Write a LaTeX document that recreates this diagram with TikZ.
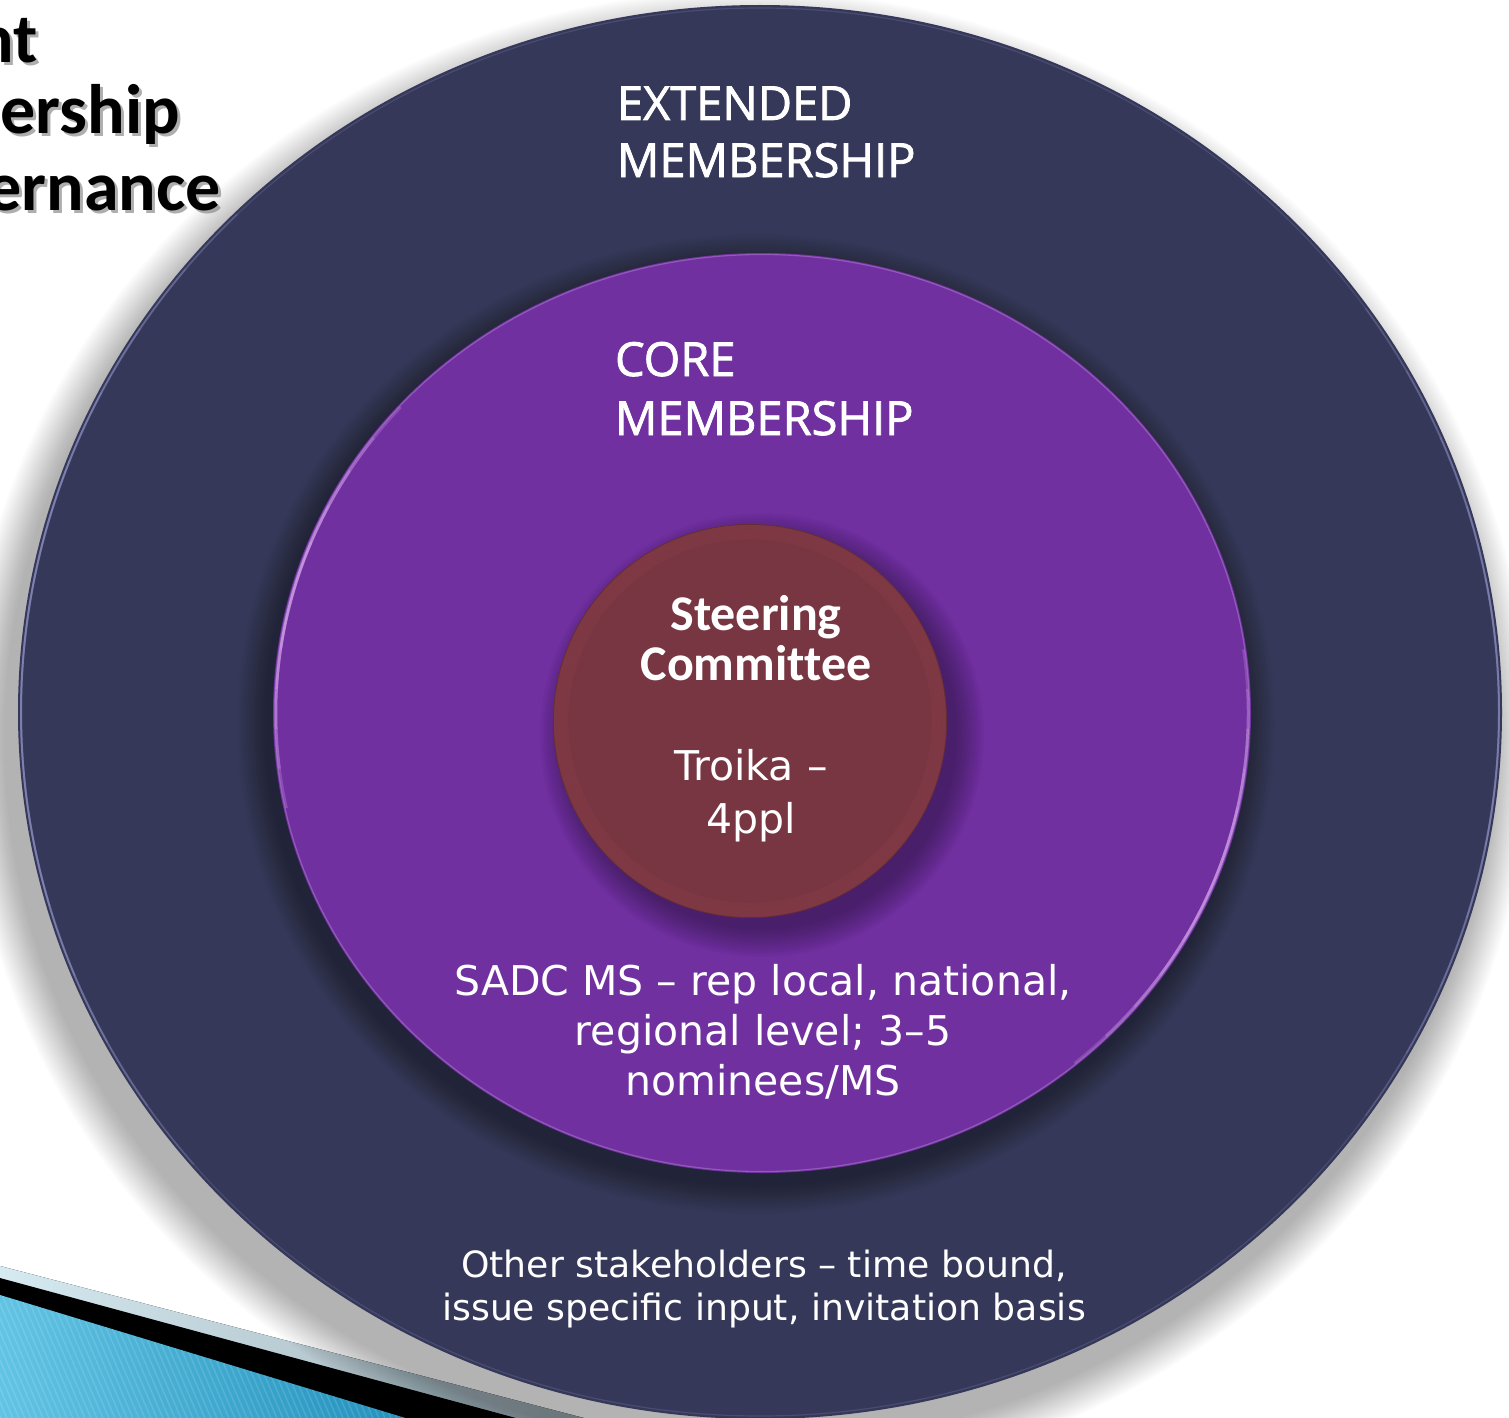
\documentclass[tikz,border=0pt]{standalone}
\usepackage{fontspec}
\setmainfont{Carlito}[Ligatures=NoCommon]
\newfontfamily\dvs{DejaVu Sans}
\newfontfamily\osans{Open Sans}[FakeBold=1.6]
\usetikzlibrary{shapes.geometric}
\definecolor{navy}{HTML}{353859}
\definecolor{purp}{HTML}{7030A0}
\definecolor{maroon}{HTML}{773641}
\definecolor{pinkrim}{HTML}{C85A6C}
\definecolor{navyrim}{HTML}{9A9CD0}
\definecolor{purprim}{HTML}{E4B8F8}
\definecolor{blueL}{HTML}{62C4E4}
\definecolor{blueD}{HTML}{1C8CB8}
\definecolor{bandL}{HTML}{D6EAF2}
\definecolor{bandD}{HTML}{98A8B0}
\tikzset{
  titletxt/.style={font=\fontsize{70}{75}\bfseries\selectfont, anchor=base east, text=black},
  titleshadow/.style={font=\fontsize{70}{75}\bfseries\selectfont, anchor=base east, text=black!45, opacity=0.7},
  headtxt/.style={font=\osans\fontsize{47}{57}\selectfont, anchor=base west, text=white},
  stcomm/.style={font=\fontsize{50}{52}\bfseries\selectfont, anchor=base, text=white},
  bodytxt/.style={font=\dvs\fontsize{41}{50}\selectfont, anchor=base, text=white},
  smalltxt/.style={font=\dvs\fontsize{36.2}{44}\selectfont, anchor=base, text=white},
  disc/.style={ellipse, draw=none, inner sep=0pt}
}
\begin{document}
\begin{tikzpicture}[x=1pt,y=-1pt, every node/.style={inner sep=0pt, outer sep=0pt}]
\useasboundingbox (0,0) rectangle (1509,1418);
\fill[white] (0,0) rectangle (1509,1418);

% bottom-left template bands
\begin{scope}
  \clip (0,0) rectangle (1509,1418);
  \fill[left color=bandL, right color=bandD] (0,1266) -- (630,1430) -- (0,1430) -- cycle;
  \fill[black] (0,1278) -- (560,1430) -- (0,1430) -- cycle;
  \fill[left color=blueL, right color=blueD] (0,1295) -- (445,1430) -- (0,1430) -- cycle;
  \clip (0,1295) -- (445,1430) -- (0,1430) -- cycle;
  \foreach \k in {-30,...,80}
    \draw[white, opacity=0.13, line width=1.4] (\k*6,1290) -- ++(60,140);
\end{scope}

% soft shadow of the outer disc
\foreach \i in {0,...,19}
  \fill[black, opacity=0.014] (748,738) ellipse ({782-2*\i} and {747-2*\i});

% outer disc
\node[disc, fill=navy, minimum width=1484pt, minimum height=1414pt] (outer) at (760,712) {};
\draw[navyrim, opacity=0.2, line width=1.2] (760,712) ellipse (739 and 704);
\foreach \s in {0,...,4}{
  \draw[navyrim, opacity=0.2, line width=2] (760,712) ++({140+6*\s}:739 and 704) arc[start angle={140+6*\s}, end angle={225-6*\s}, x radius=739, y radius=704];
  \draw[navyrim, opacity=0.18, line width=2] (760,712) ++({-35+6*\s}:739 and 704) arc[start angle={-35+6*\s}, end angle={35-6*\s}, x radius=739, y radius=704];
}

% shadow of the purple disc on the navy
\foreach \i in {0,...,19}
  \fill[black, opacity=0.016] (756,724) ellipse ({519-1.5*\i} and {490-1.5*\i});

% purple disc
\node[disc, fill=purp, minimum width=978pt, minimum height=920pt] (core) at (762,713) {};
\draw[purprim, opacity=0.3, line width=1.2] (762,713) ellipse (487.5 and 458.5);
\foreach \s in {0,...,4}{
  \draw[purprim, opacity=0.22, line width=2.5] (762,713) ++({168+5*\s}:486 and 457) arc[start angle={168+5*\s}, end angle={222-5*\s}, x radius=486, y radius=457];
  \draw[purprim, opacity=0.2, line width=2.5] (762,713) ++({-8+5*\s}:486 and 457) arc[start angle={-8+5*\s}, end angle={50-5*\s}, x radius=486, y radius=457];
}

% shadow of the steering committee disc
\foreach \i in {0,...,14}
  \fill[black, opacity=0.022] (762,735) circle ({222-2*\i});

% inner disc
\node[disc, fill=maroon, minimum width=394pt, minimum height=394pt] (steer) at (750,721) {};
\foreach \i in {0,...,13}
  \draw[pinkrim, opacity=0.08, line width=1.2] (750,721) circle ({196.5-1.1*\i});
\draw[black, opacity=0.2, line width=0.8] (750,721) circle (196.6);

% title fragments (cut at the left edge)
\node[titleshadow] (t1s) at (41,66) {nt};
\node[titleshadow] (t2s) at (183,136) {ership};
\node[titleshadow] (t3s) at (224,213) {ernance};
\node[titletxt] (t1) at (38,63) {nt};
\node[titletxt] (t2) at (180,133) {ership};
\node[titletxt] (t3) at (221,210) {ernance};

% labels
\node[headtxt] (ext1) at (617,120) {EXTENDED};
\node[headtxt] (ext2) at (617,177) {MEMBERSHIP};
\node[headtxt] (core1) at (615,376) {CORE};
\node[headtxt] (core2) at (615,435) {MEMBERSHIP};

\node[stcomm] (sc1) at (756,630) {Steering};
\node[stcomm] (sc2) at (756,680) {Committee};
\node[bodytxt] (tr1) at (751,780) {Troika –};
\node[bodytxt] (tr2) at (751,833) {4ppl};

\node[bodytxt] (sa1) at (763,995) {SADC MS – rep local, national,};
\node[bodytxt] (sa2) at (763,1045) {regional level; 3–5};
\node[bodytxt] (sa3) at (763,1095) {nominees/MS};

\node[smalltxt] (ot1) at (764,1277) {Other stakeholders – time bound,};
\node[smalltxt] (ot2) at (764,1320) {issue specific input, invitation basis};
\end{tikzpicture}
\end{document}
